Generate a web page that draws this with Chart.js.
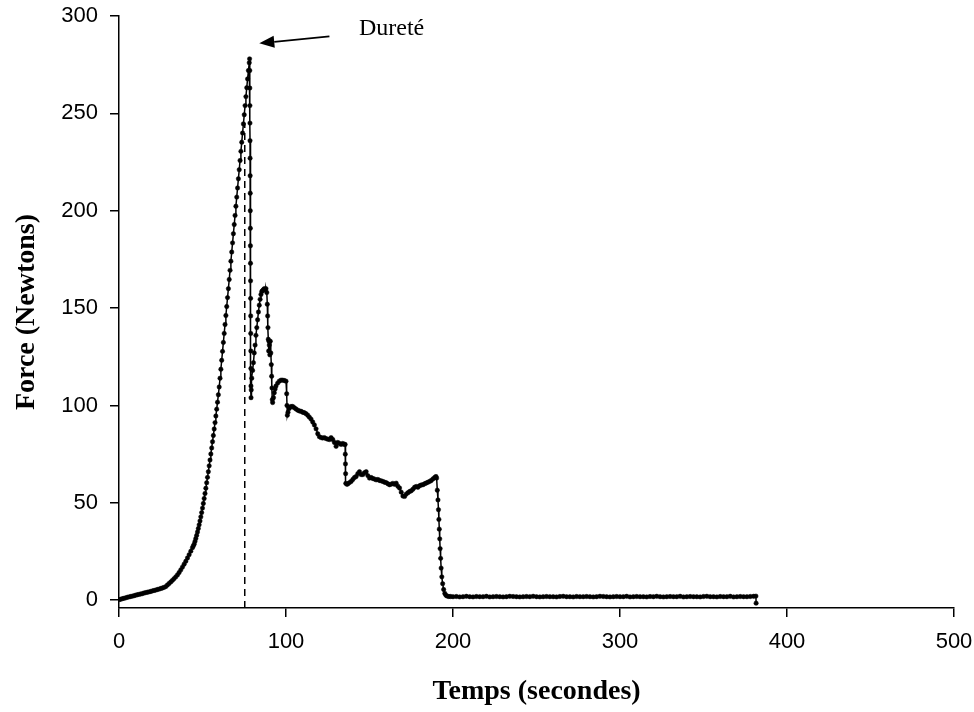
<!DOCTYPE html>
<html>
<head>
<meta charset="utf-8">
<script src="https://cdn.jsdelivr.net/npm/chart.js@4.4.1/dist/chart.umd.min.js"></script>
<style>
    body { margin: 0; background: #fff; }
</style>
</head>
<body>
<canvas id="myChart" width="974" height="712"></canvas>
<script>
// [temps (s), force (N)]
const montee = [
    [0,0.3],[1,0.5],[2,0.8],[3,1.0],[4,1.2],[5,1.5],[6,1.7],[7,1.9],[8,2.1],[9,2.3],
    [10,2.6],[11,2.8],[12,3.0],[13,3.2],[14,3.4],[15,3.7],[16,3.9],[17,4.1],[18,4.3],[19,4.5],
    [20,4.8],[21,5.0],[22,5.2],[23,5.5],[24,5.7],[25,6.0],[26,6.3],[27,6.6],[28,7.0],[29,7.8],
    [30,8.6],[31,9.4],[32,10.2],[33,11.1],[34,12.0],[35,13.0],[36,14.2],[37,15.6],[38,17.0],[39,18.5],
    [40,20.0],[41,21.7],[42,23.4],[43,25.2],[44,27.0],[44.5,27.9],[45,28.8],[45.5,30.2],[46,31.7],[46.5,33.3],
    [47,35.0],[47.5,36.8],[48,38.7],[48.5,40.7],[49,42.8],[49.5,45.0],[50,47.3],[50.5,49.7],[51,52.2],[51.5,54.8],
    [52,57.5],[52.5,60.3],[53,63.1],[53.5,66.0],[54,69.0],[54.5,72.0],[55,75.1],[55.5,78.2],[56,81.4],[56.5,84.6],
    [57,87.9],[57.5,91.2],[58,94.6],[58.5,98.1],[59,101.7],[59.5,105.5],[60,109.5],[60.5,114.0],[61,118.6],[61.5,123.2],
    [62,127.8],[62.5,132.4],[63,137.0],[63.5,141.6],[64,146.2],[64.5,150.8],[65,155.4],[65.5,160.0],[66,164.7],[66.5,169.4],
    [67,174.1],[67.5,178.8],[68,183.5],[68.5,188.2],[69,192.9],[69.5,197.6],[70,202.3],[70.5,207.0],[71,211.7],[71.5,216.4],
    [72,221.1],[72.5,225.8],[73,230.5],[73.5,235.2],[74,239.9],[74.5,244.6],[75,249.3],[75.5,254.0],[76,258.6],[76.5,263.2],
    [77,267.7],[77.5,272.0],[78,276.0],[78.2,278.0]
];

const rupture = [
    [78.3,272],[78.34,263],[78.38,254],[78.42,245],[78.46,236],[78.5,227],[78.54,218],[78.58,209],[78.62,200],[78.66,191],
    [78.7,182],[78.74,173],[78.78,164],[78.82,155],[78.86,146],[78.9,137],[78.94,128],[78.98,119],[79.02,110],[79.06,104]
];

const fragmentation = [
    [79.2,108],[79.5,114],[80,118],[80.5,122],[81,127],[81.5,131],[82,136],[82.5,140],[83,144],[83.5,148],
    [84,151.5],[84.5,154.5],[85,157],[85.5,158.5],[86,159],[86.5,159.5],[87,160],[87.5,159.5],[88,160],[88.5,158],
    [88.8,152],[89,146],[89.2,140],[89.4,134],[89.6,128],[89.8,133],[90,131],[90.3,126],[90.6,133],[90.9,127],
    [91.2,121],[91.4,115],[91.6,109],[91.8,103],[92,101.5],[92.5,104],[93,106.5],[93.5,108.5],[94,110],[95,111.5],
    [96,112.5],[97,113],[98,113],[99,112.8],[100,112.5],[100.4,106],[100.6,100],[100.8,95],[101.2,96.5],[102,98.5],
    [103,99.5],[104,99.5],[105,98.8],[106,98.2],[107,97.6],[108,97.2],[109,97],[110,96.5],[111,96.3],[112,95.8],
    [113,95],[114,94],[115,93],[116,91.5],[117,90],[118,88],[119,85.5],[120,84],[121,83.5],[122,83.3],
    [123,83.5],[124,83],[125,82.7],[126,82.5],[127,83.5],[128,82.5],[129,81],[130,79],[131,81],[132,80.5],
    [133,80],[134,80.5],[135,80],[135.4,80],[135.5,75],[135.6,70],[135.7,65],[135.8,60]
];

const palier = [
    [136.5,59.5],[137,59.8],[138,60.4],[139,61],[140,62],[141,63],[142,63.5],[143,65],[144,66],[145,64.5],
    [146,64.5],[147,65.5],[148,66],[149,64],[150,62.7],[151,63],[152,62.5],[153,62.2],[154,61.8],[155,62],
    [156,61.5],[157,61.3],[158,61],[159,60.6],[160,60.4],[161,59.8],[162,59.3],[163,59.6],[164,60],[165,59.5],
    [166,60.1],[167,58.5],[168,57.6],[169,55.5],[170,53.5],[171,53.3],[172,54.5],[173,55.2],[174,55.8],[175,56.2],
    [176,57],[177,58],[178,58.4],[179,58],[180,58.8],[181,59.2],[182,59.3],[183,59.8],[184,60.2],[185,60.6],
    [186,61],[187,61.5],[188,62.3],[189,63],[189.8,63.5],[190.2,62.7]
];

const decharge = [
    [190.6,56.5],[191,51.5],[191.3,46.5],[191.55,41.5],[191.8,36.5],[192.05,31.5],[192.3,26.5],[192.6,21.5],
    [192.9,16.5],[193.3,12],[193.8,8.5],[194.4,5.5],[195.1,3.5],[195.8,2.5],[196.5,2.1],[197.5,1.9],[198.5,1.9]
];

const fin = [
    [200,1.8],[202,1.9],[204,1.7],[206,1.8],[208,2.0],[210,1.8],[212,1.7],[214,1.9],[216,1.8],[218,1.8],
    [220,2.0],[222,1.7],[224,1.8],[226,1.9],[228,1.8],[230,1.7],[232,1.8],[234,2.0],[236,1.9],[238,1.8],
    [240,1.7],[242,1.8],[244,1.9],[246,1.8],[248,2.0],[250,1.8],[252,1.7],[254,1.8],[256,1.9],[258,1.8],
    [260,1.8],[262,1.7],[264,1.9],[266,2.0],[268,1.8],[270,1.8],[272,1.7],[274,1.9],[276,1.8],[278,1.8],
    [280,1.9],[282,1.8],[284,1.7],[286,1.8],[288,2.0],[290,1.9],[292,1.8],[294,1.7],[296,1.8],[298,1.9],
    [300,1.8],[302,1.8],[304,2.0],[306,1.7],[308,1.8],[310,1.9],[312,1.8],[314,1.8],[316,1.7],[318,1.9],
    [320,1.8],[322,2.0],[324,1.8],[326,1.7],[328,1.8],[330,1.9],[332,1.8],[334,1.8],[336,2.0],[338,1.7],
    [340,1.8],[342,1.9],[344,1.8],[346,1.8],[348,1.7],[350,1.9],[352,2.0],[354,1.8],[356,1.8],[358,1.7],
    [360,1.9],[362,1.8],[364,1.8],[366,2.0],[368,1.7],[370,1.8],[372,1.9],[374,1.8],[376,1.8],[378,1.9],
    [380,2.0],[381.4,2.1],[381.5,-1.5]
];

// repère vertical de la dureté
const repereDurete = [[75.3, -4], [75.3, 245]];

const ticksX = [0, 100, 200, 300, 400, 500];
const ticksY = [0, 50, 100, 150, 200, 250, 300];

// flèche + étiquette, en unités du graphe
const flecheDe = [126, 289.5];
const flecheVers = [84, 286];
const etiquette = { texte: 'Dureté', t: 143.7, force: 290.4 };

const courbe = [...montee, ...rupture, ...fragmentation, ...palier, ...decharge, ...fin]
    .map(([t, f]) => ({ x: t, y: f }));

const annotationDurete = {
    id: 'annotationDurete',
    afterDatasetsDraw(chart) {
        const { ctx, scales: { x, y } } = chart;
        const x1 = x.getPixelForValue(flecheDe[0]), y1 = y.getPixelForValue(flecheDe[1]);
        const x2 = x.getPixelForValue(flecheVers[0]), y2 = y.getPixelForValue(flecheVers[1]);
        const a = Math.atan2(y2 - y1, x2 - x1);
        const bx = x2 - 15 * Math.cos(a), by = y2 - 15 * Math.sin(a);

        ctx.save();
        ctx.strokeStyle = '#000';
        ctx.fillStyle = '#000';
        ctx.lineWidth = 1.8;
        ctx.beginPath();
        ctx.moveTo(x1, y1);
        ctx.lineTo(bx, by);
        ctx.stroke();

        ctx.beginPath();
        ctx.moveTo(x2, y2);
        ctx.lineTo(bx + 6 * Math.sin(a), by - 6 * Math.cos(a));
        ctx.lineTo(bx - 6 * Math.sin(a), by + 6 * Math.cos(a));
        ctx.closePath();
        ctx.fill();

        ctx.font = '24px "Liberation Serif"';
        ctx.textAlign = 'left';
        ctx.textBaseline = 'alphabetic';
        ctx.fillText(etiquette.texte, x.getPixelForValue(etiquette.t), y.getPixelForValue(etiquette.force));
        ctx.restore();
    }
};

Chart.defaults.font.family = '"Liberation Sans", Arial, sans-serif';
Chart.defaults.color = '#000';

const ctx = document.getElementById('myChart').getContext('2d');
new Chart(ctx, {
    type: 'scatter',
    data: {
        datasets: [{
            data: courbe,
            showLine: true,
            borderColor: '#000',
            borderWidth: 1.5,
            pointRadius: 2.2,
            pointBackgroundColor: '#000',
            pointBorderColor: '#000',
            pointBorderWidth: 0.5
        }, {
            data: repereDurete.map(([t, f]) => ({ x: t, y: f })),
            showLine: true,
            borderColor: '#000',
            borderWidth: 1.5,
            borderDash: [7, 5],
            pointRadius: 0
        }]
    },
    options: {
        responsive: false,
        animation: false,
        layout: { padding: { top: 16, right: 20, left: 0, bottom: 0 } },
        plugins: {
            legend: { display: false },
            tooltip: { enabled: false }
        },
        scales: {
            x: {
                type: 'linear',
                min: 0,
                max: 500,
                afterBuildTicks: (scale) => { scale.ticks = ticksX.map(v => ({ value: v })); },
                afterFit: (scale) => {
                    scale.height = 104;
                    scale.paddingLeft = 0;
                    scale.paddingRight = 0;
                },
                grid: { drawOnChartArea: false, tickLength: 9, color: '#000', lineWidth: 1.5 },
                border: { color: '#000', width: 1.5 },
                ticks: { font: { size: 22 }, padding: 12, maxRotation: 0 },
                title: {
                    display: true,
                    text: 'Temps (secondes)',
                    font: { family: '"Liberation Serif", "Times New Roman", serif', size: 28, weight: 'bold' },
                    padding: { top: 0, bottom: 3 }
                }
            },
            y: {
                min: -4,
                max: 300,
                afterBuildTicks: (scale) => { scale.ticks = ticksY.map(v => ({ value: v })); },
                afterFit: (scale) => {
                    scale.width = 119;
                    scale.paddingTop = 0;
                    scale.paddingBottom = 0;
                },
                grid: { drawOnChartArea: false, tickLength: 9, color: '#000', lineWidth: 1.5 },
                border: { color: '#000', width: 1.5 },
                ticks: { font: { size: 22 }, padding: 12 },
                title: {
                    display: true,
                    text: 'Force (Newtons)',
                    font: { family: '"Liberation Serif", "Times New Roman", serif', size: 28, weight: 'bold' },
                    padding: { top: 10, bottom: 0 }
                }
            }
        }
    },
    plugins: [annotationDurete]
});
</script>
</body>
</html>
